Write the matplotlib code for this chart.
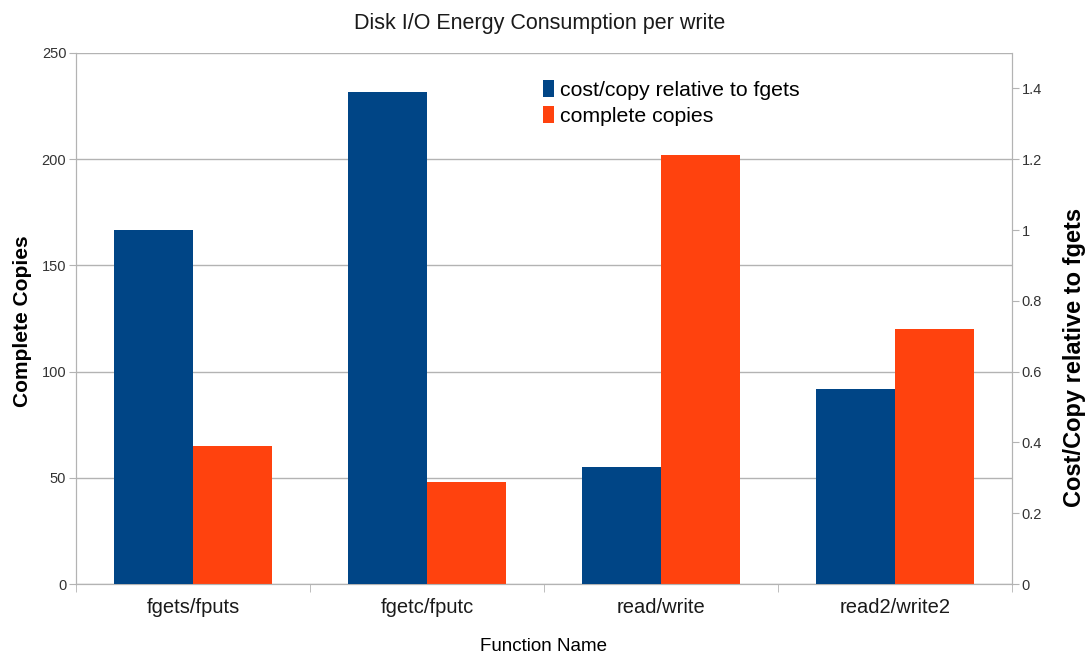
import numpy as np
import matplotlib.pyplot as plt

plt.rcParams['font.family'] = ['Liberation Sans', 'DejaVu Sans']

functions = ['fgets/fputs', 'fgetc/fputc', 'read/write', 'read2/write2']
cost_per_copy = [1.0, 1.39, 0.33, 0.55]      # relative to fgets (right axis)
complete_copies = [65, 48, 202, 120]          # left axis

blue = '#004586'
orange = '#ff420e'
grey = '#b3b3b3'
txt = '#333333'

fig = plt.figure(figsize=(10.87, 6.58), dpi=100)
ax = fig.add_axes([76 / 1087, 74 / 658, 936 / 1087, 531 / 658])
ax2 = ax.twinx()

x = np.arange(len(functions))
w = 0.338

# grid lives on the lower axes so both bar series sit on top of it
ax.bar(x + w / 2, complete_copies, w, color=orange, label='complete copies', zorder=3)
ax2.bar(x - w / 2, cost_per_copy, w, color=blue, label='cost/copy relative to fgets', zorder=3)

# left axis
ax.set_ylim(0, 250)
ax.set_yticks(np.arange(0, 251, 50))
ax.yaxis.grid(True, color=grey, linewidth=1, zorder=0)
ax.set_axisbelow(True)
ax.set_ylabel('Complete Copies', fontsize=15, fontweight='bold', color='black')
ax.yaxis.set_label_coords(-44 / 936, (658 - 321 - 74) / 531)

# right axis
ax2.set_ylim(0, 1.5)
ax2.set_yticks([0, 0.2, 0.4, 0.6, 0.8, 1, 1.2, 1.4])
ax2.set_yticklabels(['0', '0.2', '0.4', '0.6', '0.8', '1', '1.2', '1.4'])
ax2.set_ylabel('Cost/Copy relative to fgets', fontsize=17, fontweight='bold', color='black')
ax2.yaxis.set_label_coords((1063 - 76) / 936, (658 - 357 - 74) / 531)

# x axis
ax.set_xlim(-0.5, len(functions) - 0.5)
ax.set_xticks(x)
ax.set_xticklabels(functions, fontsize=14.5, color='#1a1a1a')
ax.set_xticks(np.arange(-0.5, len(functions)), minor=True)
ax.tick_params(axis='x', which='major', length=0, pad=10)
ax.tick_params(axis='x', which='minor', length=6, color=grey)
ax.set_xlabel('Function Name', fontsize=13.5, labelpad=15)

for a in (ax, ax2):
    for s in a.spines.values():
        s.set_color(grey)
    a.spines['top'].set_visible(False)
ax.tick_params(axis='y', length=5, color=grey, labelsize=10.5, labelcolor=txt, pad=2)
ax2.tick_params(axis='y', length=5, color=grey, labelsize=10.5, labelcolor=txt, pad=2)

fig.text(540 / 1087, 1 - 24 / 658, 'Disk I/O Energy Consumption per write', ha='center', va='center',
         fontsize=15.5, color='#1a1a1a')

h1, l1 = ax2.get_legend_handles_labels()
h2, l2 = ax.get_legend_handles_labels()
ax2.legend(h1 + h2, l1 + l2, loc='upper left', bbox_to_anchor=(458 / 936, 1 - 19 / 531),
           frameon=False, fontsize=15.3, handlelength=0.55, handleheight=0.8,
           handletextpad=0.25, borderaxespad=0, labelspacing=0.3)

fig.savefig('out.png', dpi=100)
